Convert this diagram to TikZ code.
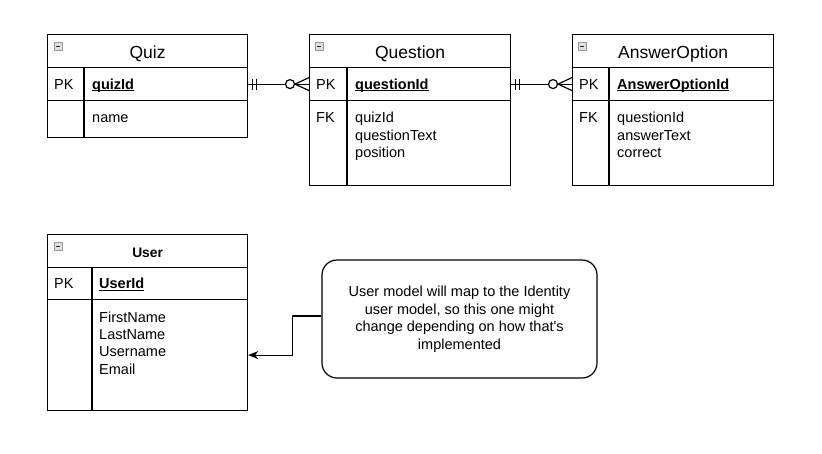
\documentclass[tikz,border=0pt]{standalone}
\usepackage{fontspec}
\setmainfont{Liberation Sans}
\usepackage{tikz}
\usetikzlibrary{arrows.meta}
\usetikzlibrary{calc}

\newcommand{\keyname}[1]{\setbox0\hbox{\textbf{#1}}\rlap{\rule[-2.2pt]{\wd0}{1.1pt}}\box0}

\begin{document}
\begin{tikzpicture}[x=1pt,y=-1pt,
	tbl/.style={draw,line width=1.2pt,inner sep=0pt,anchor=north west},
	hdr/.style={tbl,font=\fontsize{17.5}{21}\selectfont,text height=15pt,text depth=0pt},
	fld/.style={inner sep=0pt,anchor=base west,font=\fontsize{14.5}{17.3}\selectfont},
	lines/.style={inner sep=0pt,anchor=north west,align=left,font=\fontsize{14.5}{17.3}\selectfont},
	icon/.style={draw=gray!80,fill=gray!25,line width=.9pt},
	rel/.style={line width=1.2pt},
	note/.style={draw,line width=1.2pt,rounded corners=15pt,minimum width=275pt,minimum height=118pt,align=center,font=\fontsize{14.5}{17.5}\selectfont}]
	\useasboundingbox (0,0) rectangle (822,453);
	
	%quiz (table)
	\node[hdr,minimum width=200pt,minimum height=33pt] (quizhead) at (47,34) {Quiz};
	\node[tbl,minimum width=200pt,minimum height=33pt] (quizpk) at (47,67) {};
	\node[tbl,minimum width=200pt,minimum height=37pt] (quizbody) at (47,100) {};
	\draw[rel] ($(quizpk.north west)+(37,0)$) -- ($(quizbody.south west)+(37,0)$);
	\filldraw[icon] (54,42) rectangle +(8,8);
	\draw[gray!30!black,line width=.9pt] (56,46) -- +(4,0);
	\node[fld] (quizpkkey) at (54,89) {PK};
	\node[fld] (quizid) at (92,89) {\keyname{quizId}};
	\node[fld] (quizname) at (92,122.5) {name};
	
	%question (table)
	\node[hdr,minimum width=201pt,minimum height=33pt] (questionhead) at (309,34) {Question};
	\node[tbl,minimum width=201pt,minimum height=33pt] (questionpk) at (309,67) {};
	\node[tbl,minimum width=201pt,minimum height=85pt] (questionbody) at (309,100) {};
	\draw[rel] ($(questionpk.north west)+(38,0)$) -- ($(questionbody.south west)+(38,0)$);
	\filldraw[icon] (315,42) rectangle +(8,8);
	\draw[gray!30!black,line width=.9pt] (317,46) -- +(4,0);
	\node[fld] (questionpkkey) at (316,89) {PK};
	\node[fld] (questionid) at (355,89) {\keyname{questionId}};
	\node[fld] (questionfkkey) at (316,122.5) {FK};
	\node[lines] (questionfields) at (355,112) {quizId\\questionText\\position};
	
	%answer option (table)
	\node[hdr,minimum width=201pt,minimum height=33pt] (answerhead) at (572,34) {AnswerOption};
	\node[tbl,minimum width=201pt,minimum height=33pt] (answerpk) at (572,67) {};
	\node[tbl,minimum width=201pt,minimum height=85pt] (answerbody) at (572,100) {};
	\draw[rel] ($(answerpk.north west)+(37,0)$) -- ($(answerbody.south west)+(37,0)$);
	\filldraw[icon] (578,42) rectangle +(8,8);
	\draw[gray!30!black,line width=.9pt] (580,46) -- +(4,0);
	\node[fld] (answerpkkey) at (579,89) {PK};
	\node[fld] (answerid) at (617,89) {\keyname{AnswerOptionId}};
	\node[fld] (answerfkkey) at (579,122.5) {FK};
	\node[lines] (answerfields) at (617,112) {questionId\\answerText\\correct};
	
	%user (table)
	\node[hdr,minimum width=200pt,minimum height=33pt,font=\fontsize{13.8}{16}\selectfont\bfseries,text height=13pt] (userhead) at (47,234) {User};
	\node[tbl,minimum width=200pt,minimum height=32pt] (userpk) at (47,267) {};
	\node[tbl,minimum width=200pt,minimum height=111pt] (userbody) at (47,299) {};
	\draw[rel] ($(userpk.north west)+(45,0)$) -- ($(userbody.south west)+(45,0)$);
	\filldraw[icon] (54,242) rectangle +(8,8);
	\draw[gray!30!black,line width=.9pt] (56,246) -- +(4,0);
	\node[fld] (userpkkey) at (54,288.5) {PK};
	\node[fld] (userid) at (99,288.5) {\keyname{UserId}};
	\node[lines] (userfields) at (99,311.5) {FirstName\\LastName\\Username\\Email};
	
	%relaciones (one to zero-or-many)
	\draw[rel] (quizpk.east) -- (questionpk.west);
	\draw[rel] ($(quizpk.east)+(4,-5.5)$) -- +(0,11);
	\draw[rel] ($(quizpk.east)+(8,-5.5)$) -- +(0,11);
	\filldraw[rel,fill=white] ($(questionpk.west)+(-19,0)$) circle [radius=4.5pt];
	\draw[rel] ($(questionpk.west)+(0,-6.5)$) -- ($(questionpk.west)+(-14,0)$) -- ($(questionpk.west)+(0,6.5)$);
	
	\draw[rel] (questionpk.east) -- (answerpk.west);
	\draw[rel] ($(questionpk.east)+(4,-5.5)$) -- +(0,11);
	\draw[rel] ($(questionpk.east)+(8,-5.5)$) -- +(0,11);
	\filldraw[rel,fill=white] ($(answerpk.west)+(-19,0)$) circle [radius=4.5pt];
	\draw[rel] ($(answerpk.west)+(0,-6.5)$) -- ($(answerpk.west)+(-14,0)$) -- ($(answerpk.west)+(0,6.5)$);
	
	%nota
	\node[note] (note) at (459.5,319) {User model will map to the Identity\\user model, so this one might\\change depending on how that\textquotesingle s\\implemented};
	\draw[rel,-{Stealth[length=10pt,width=8pt,inset=3pt]}] ($(note.west)+(0,-3)$) -- ++(-29,0) |- (userbody.east);
\end{tikzpicture}
\end{document}
